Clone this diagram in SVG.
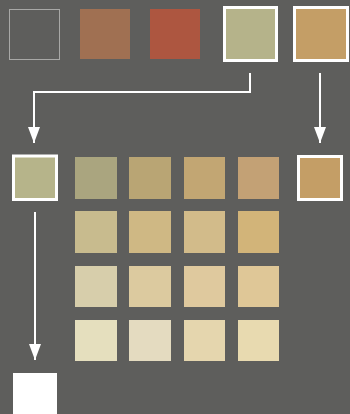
<svg xmlns="http://www.w3.org/2000/svg" width="350" height="414" viewBox="0 0 350 414">
<style>
.sel{stroke:#ffffff;stroke-width:3}
.conn{fill:none;stroke:#ffffff;stroke-width:2}
</style>
<defs>
<marker id="ah" markerWidth="16" markerHeight="12" refX="16" refY="6" orient="auto" markerUnits="userSpaceOnUse" viewBox="0 0 16 12">
<path d="M0,0 L16,6 L0,12 Z" fill="#ffffff"/>
</marker>
</defs>
<rect width="350" height="414" fill="#5e5e5c"/>
<g id="top-empty"><rect x="9.5" y="9.5" width="50" height="50" fill="none" stroke="#a8a8a6" stroke-width="1"/></g>
<g id="top-brown"><rect x="80" y="9" width="50" height="50" fill="#a07052"/></g>
<g id="top-red"><rect x="150" y="9" width="50" height="50" fill="#ad5640"/></g>
<g id="top-olive"><rect x="224.5" y="7.5" width="52" height="53" fill="#b5b38a" class="sel"/></g>
<g id="top-ochre"><rect x="294.5" y="7.5" width="53" height="53" fill="#c49e66" class="sel"/></g>
<g id="mid-olive"><rect x="13.5" y="156" width="43" height="43.5" fill="#b6b48a" class="sel"/></g>
<g id="mid-ochre"><rect x="298.5" y="156.5" width="43" height="43" fill="#c49e66" class="sel"/></g>
<g id="bottom-white"><rect x="13" y="373" width="44" height="41" fill="#ffffff"/></g>
<g id="grid">
<rect x="75" y="157" width="42" height="42" fill="#aaa57f"/>
<rect x="129" y="157" width="42" height="42" fill="#b9a574"/>
<rect x="184" y="157" width="41" height="42" fill="#c2a673"/>
<rect x="238" y="157" width="41" height="42" fill="#c3a175"/>
<rect x="75" y="211" width="42" height="42" fill="#c8bb8e"/>
<rect x="129" y="211" width="42" height="42" fill="#cfb884"/>
<rect x="184" y="211" width="41" height="42" fill="#d2bb8a"/>
<rect x="238" y="211" width="41" height="42" fill="#d2b479"/>
<rect x="75" y="266" width="42" height="41" fill="#d7ceab"/>
<rect x="129" y="266" width="42" height="41" fill="#dcca9f"/>
<rect x="184" y="266" width="41" height="41" fill="#dfc99e"/>
<rect x="238" y="266" width="41" height="41" fill="#dfc797"/>
<rect x="75" y="320" width="42" height="41" fill="#e5dfbe"/>
<rect x="129" y="320" width="42" height="41" fill="#e4dbc0"/>
<rect x="184" y="320" width="41" height="41" fill="#e5d6ae"/>
<rect x="238" y="320" width="41" height="41" fill="#e8dab0"/>
</g>
<g id="connectors">
<path class="conn" d="M250,73 V92 H34 V143" marker-end="url(#ah)"/>
<path class="conn" d="M320,73 V143" marker-end="url(#ah)"/>
<path class="conn" d="M35,212 V360" marker-end="url(#ah)"/>
</g>
</svg>
